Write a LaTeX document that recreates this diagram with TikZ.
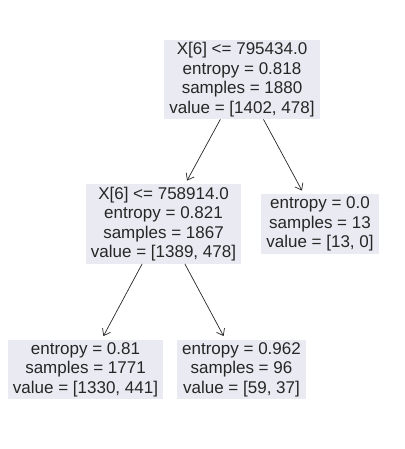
\documentclass[tikz,border=0pt]{standalone}
\usepackage{fontspec}
\setmainfont{Liberation Sans}
\usetikzlibrary{arrows.meta}
\definecolor{boxbg}{HTML}{EAEAF2}
\definecolor{txt}{HTML}{262626}
\begin{document}
\begin{tikzpicture}[x=1pt,y=1pt,
  treebox/.style={fill=boxbg, text=txt, align=center, inner xsep=5pt, inner ysep=2.5pt,
    font=\fontsize{17}{19.5}\selectfont},
  arr/.style={draw=txt, line width=0.7pt, -{Straight Barb[length=6pt,width=9pt]}, shorten >=4pt}]
\useasboundingbox (0,0) rectangle (404,449);
\node[treebox] (root) at (242,369.5) {X[6] <= 795434.0\\entropy = 0.818\\samples = 1880\\value = [1402, 478]};
\node[treebox] (ml) at (163.5,225) {X[6] <= 758914.0\\entropy = 0.821\\samples = 1867\\value = [1389, 478]};
\node[treebox] (mr) at (320,225) {entropy = 0.0\\samples = 13\\value = [13, 0]};
\node[treebox] (l1) at (85.5,79.5) {entropy = 0.81\\samples = 1771\\value = [1330, 441]};
\node[treebox] (l2) at (241.5,79.5) {entropy = 0.962\\samples = 96\\value = [59, 37]};
\draw[arr] (root) -- (ml);
\draw[arr] (root) -- (mr);
\draw[arr] (ml) -- (l1);
\draw[arr] (ml) -- (l2);
\end{tikzpicture}
\end{document}
